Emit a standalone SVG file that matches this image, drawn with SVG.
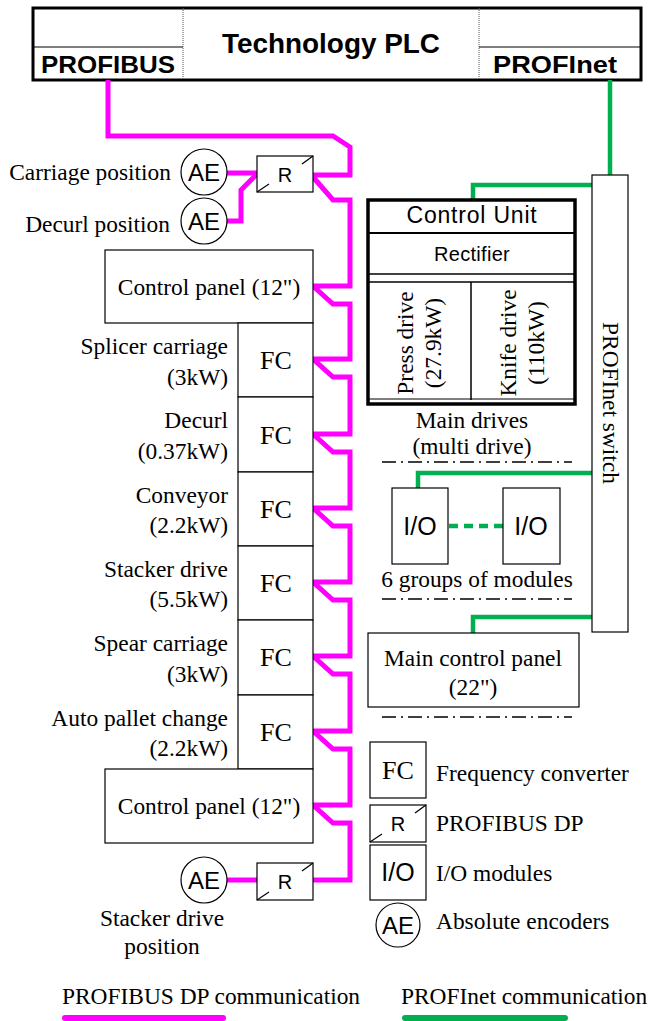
<svg xmlns="http://www.w3.org/2000/svg" width="649" height="1021" viewBox="0 0 649 1021">
<style>
.box{fill:#fff;stroke:#000;stroke-width:1.2}
.serif{font-family:"Liberation Serif","Times New Roman",serif;font-size:23.4px;fill:#000}
.sans{font-family:"Liberation Sans",Arial,sans-serif;fill:#000}
.bold{font-family:"Liberation Sans",Arial,sans-serif;font-weight:bold;fill:#000}
.mid{text-anchor:middle}
.end{text-anchor:end}
.fc{font-size:26px}
.ae{font-size:24px}
.io{font-size:25px}
.r{font-size:20px}
.pb{fill:none;stroke:#ff00ff;stroke-width:5;stroke-linejoin:miter;stroke-linecap:butt}
.pn{fill:none;stroke:#00b050;stroke-width:4.5}
.dd{fill:none;stroke:#000;stroke-width:1.5;stroke-dasharray:14 5 2 5}
.tk{stroke:#000;stroke-width:1.2}
</style>
<g id="plc">
<rect x="33" y="8" width="608" height="72" fill="#fff" stroke="#000" stroke-width="3"/>
<line x1="183" y1="8" x2="183" y2="80" stroke="#555" stroke-width="1" stroke-dasharray="1 1"/>
<line x1="479" y1="8" x2="479" y2="80" stroke="#555" stroke-width="1" stroke-dasharray="1 1"/>
<line x1="33" y1="47" x2="183" y2="47" stroke="#000" stroke-width="1.2"/>
<line x1="479" y1="47" x2="641" y2="47" stroke="#000" stroke-width="1.2"/>
<text class="bold mid" x="331" y="53" font-size="28" textLength="218" lengthAdjust="spacingAndGlyphs">Technology PLC</text>
<text class="bold" x="41" y="73" font-size="24" textLength="134" lengthAdjust="spacingAndGlyphs">PROFIBUS</text>
<text class="bold" x="493" y="73" font-size="24" textLength="124" lengthAdjust="spacingAndGlyphs">PROFInet</text>
</g>
<g id="connectors">
<path class="pb" d="M108,80 V136 H333 L350,147 V175 H313"/>
<path class="pb" d="M313,177 L333,200 H350 V286 H313 L333,304 H350 V359 H313 L333,377 H350 V434 H313 L333,452 H350 V508 H313 L333,526 H350 V582 H313 L333,600 H350 V656 H313 L333,674 H350 V731 H313 L333,749 H350 V805 H313 L333,823 H350 V880 H313"/>
<path class="pb" d="M227,173 H257"/>
<path class="pb" d="M227,221 H241 V190 L257,174"/>
<path class="pb" d="M227,880 H257"/>
<path class="pn" d="M610,80 V176"/>
<path class="pn" d="M592,185 H473 V200"/>
<path class="pn" d="M592,473 H418 V488"/>
<path class="pn" d="M592,617 H473 V633"/>
<path class="pn" d="M449,526 H503" stroke-dasharray="9 6"/>
</g>
<g id="ae-carriage">
<circle cx="204" cy="172" r="23" class="box"/>
<text class="sans mid ae" x="204" y="181">AE</text>
<text class="serif end" x="171" y="180">Carriage position</text>
</g>
<g id="ae-decurl">
<circle cx="204" cy="221" r="23" class="box"/>
<text class="sans mid ae" x="204" y="230">AE</text>
<text class="serif end" x="170" y="232">Decurl position</text>
</g>
<g id="r-top">
<rect x="257" y="156" width="56" height="36" class="box"/>
<line class="tk" x1="302" y1="164" x2="313" y2="156"/>
<line class="tk" x1="257" y1="192" x2="269" y2="184"/>
<text class="sans mid r" x="285" y="182">R</text>
</g>
<g id="panel-top">
<rect x="105" y="250" width="208" height="73" class="box"/>
<text class="serif mid" x="209" y="295">Control panel (12")</text>
</g>
<g id="fc-splicer">
<rect x="238" y="323" width="75" height="74" class="box"/>
<text class="serif mid fc" x="276" y="369">FC</text>
<text class="serif end" x="228" y="354">Splicer carriage</text>
<text class="serif end" x="228" y="385">(3kW)</text>
</g>
<g id="fc-decurl">
<rect x="238" y="397" width="75" height="75" class="box"/>
<text class="serif mid fc" x="276" y="444">FC</text>
<text class="serif end" x="228" y="428">Decurl</text>
<text class="serif end" x="228" y="459">(0.37kW)</text>
</g>
<g id="fc-conveyor">
<rect x="238" y="472" width="75" height="74" class="box"/>
<text class="serif mid fc" x="276" y="518">FC</text>
<text class="serif end" x="228" y="503">Conveyor</text>
<text class="serif end" x="228" y="533">(2.2kW)</text>
</g>
<g id="fc-stacker">
<rect x="238" y="546" width="75" height="74" class="box"/>
<text class="serif mid fc" x="276" y="592">FC</text>
<text class="serif end" x="228" y="577">Stacker drive</text>
<text class="serif end" x="228" y="607">(5.5kW)</text>
</g>
<g id="fc-spear">
<rect x="238" y="620" width="75" height="75" class="box"/>
<text class="serif mid fc" x="276" y="666">FC</text>
<text class="serif end" x="228" y="651">Spear carriage</text>
<text class="serif end" x="228" y="682">(3kW)</text>
</g>
<g id="fc-pallet">
<rect x="238" y="695" width="75" height="74" class="box"/>
<text class="serif mid fc" x="276" y="741">FC</text>
<text class="serif end" x="228" y="726">Auto pallet change</text>
<text class="serif end" x="228" y="756">(2.2kW)</text>
</g>
<g id="panel-bottom">
<rect x="105" y="769" width="208" height="74" class="box"/>
<text class="serif mid" x="209" y="814">Control panel (12")</text>
</g>
<g id="ae-stacker">
<circle cx="204" cy="880" r="23" class="box"/>
<text class="sans mid ae" x="204" y="889">AE</text>
<text class="serif mid" x="162" y="926">Stacker drive</text>
<text class="serif mid" x="162" y="954">position</text>
</g>
<g id="r-bottom">
<rect x="257" y="863" width="56" height="37" class="box"/>
<line class="tk" x1="302" y1="871" x2="313" y2="863"/>
<line class="tk" x1="257" y1="900" x2="269" y2="892"/>
<text class="sans mid r" x="285" y="889">R</text>
</g>
<g id="main-drives">
<rect x="368" y="200" width="207" height="204" fill="#fff" stroke="#000" stroke-width="3.5"/>
<line x1="368" y1="233" x2="575" y2="233" stroke="#000" stroke-width="2"/>
<line x1="368" y1="274" x2="575" y2="274" stroke="#000" stroke-width="1.5"/>
<line x1="368" y1="282" x2="575" y2="282" stroke="#000" stroke-width="1.5"/>
<line x1="471" y1="282" x2="471" y2="400" stroke="#000" stroke-width="1.5"/>
<line x1="368" y1="399" x2="575" y2="399" stroke="#000" stroke-width="1.2"/>
<text class="sans mid" x="472" y="223" font-size="23" letter-spacing="0.8">Control Unit</text>
<text class="sans mid" x="472" y="261" font-size="20" letter-spacing="0.3">Rectifier</text>
<text class="serif mid" transform="translate(413,343) rotate(-90)">Press drive</text>
<text class="serif mid" transform="translate(441,343) rotate(-90)">(27.9kW)</text>
<text class="serif mid" transform="translate(516,343) rotate(-90)">Knife drive</text>
<text class="serif mid" transform="translate(544,343) rotate(-90)">(110kW)</text>
<text class="serif mid" x="472" y="428">Main drives</text>
<text class="serif mid" x="472" y="454">(multi drive)</text>
</g>
<g id="switch">
<rect x="592" y="175" width="36" height="457" class="box"/>
<text class="serif mid" transform="translate(603,403) rotate(90)">PROFInet switch</text>
</g>
<g id="io-groups">
<line class="dd" x1="382" y1="462" x2="572" y2="462"/>
<rect x="392" y="488" width="56" height="76" class="box"/>
<text class="sans mid io" x="420" y="535">I/O</text>
<rect x="503" y="488" width="57" height="76" class="box"/>
<text class="sans mid io" x="531" y="535">I/O</text>
<text class="serif mid" x="477" y="587">6 groups of modules</text>
<line class="dd" x1="382" y1="599" x2="572" y2="599"/>
</g>
<g id="main-panel">
<rect x="368" y="633" width="211" height="74" class="box"/>
<text class="serif mid" x="473" y="666">Main control panel</text>
<text class="serif mid" x="473" y="695">(22")</text>
<line class="dd" x1="382" y1="717" x2="572" y2="717"/>
</g>
<g id="legend">
<rect x="370" y="742" width="56" height="56" class="box"/>
<text class="serif mid fc" x="398" y="779">FC</text>
<text class="serif" x="436" y="781">Frequency converter</text>
<rect x="370" y="805" width="56" height="37" class="box"/>
<line class="tk" x1="415" y1="813" x2="426" y2="805"/>
<line class="tk" x1="370" y1="842" x2="382" y2="834"/>
<text class="sans mid r" x="398" y="831">R</text>
<text class="serif" x="436" y="831">PROFIBUS DP</text>
<rect x="370" y="845" width="56" height="55" class="box"/>
<text class="sans mid io" x="398" y="881">I/O</text>
<text class="serif" x="436" y="881">I/O modules</text>
<circle cx="398" cy="925" r="22" class="box"/>
<text class="sans mid ae" x="398" y="934">AE</text>
<text class="serif" x="436" y="929">Absolute encoders</text>
<text class="serif" x="62" y="1004">PROFIBUS DP communication</text>
<line x1="65" y1="1018" x2="223" y2="1018" stroke="#ff00ff" stroke-width="6" stroke-linecap="round"/>
<text class="serif" x="401" y="1004">PROFInet communication</text>
<line x1="405" y1="1018" x2="565" y2="1018" stroke="#00b050" stroke-width="6" stroke-linecap="round"/>
</g>
</svg>
